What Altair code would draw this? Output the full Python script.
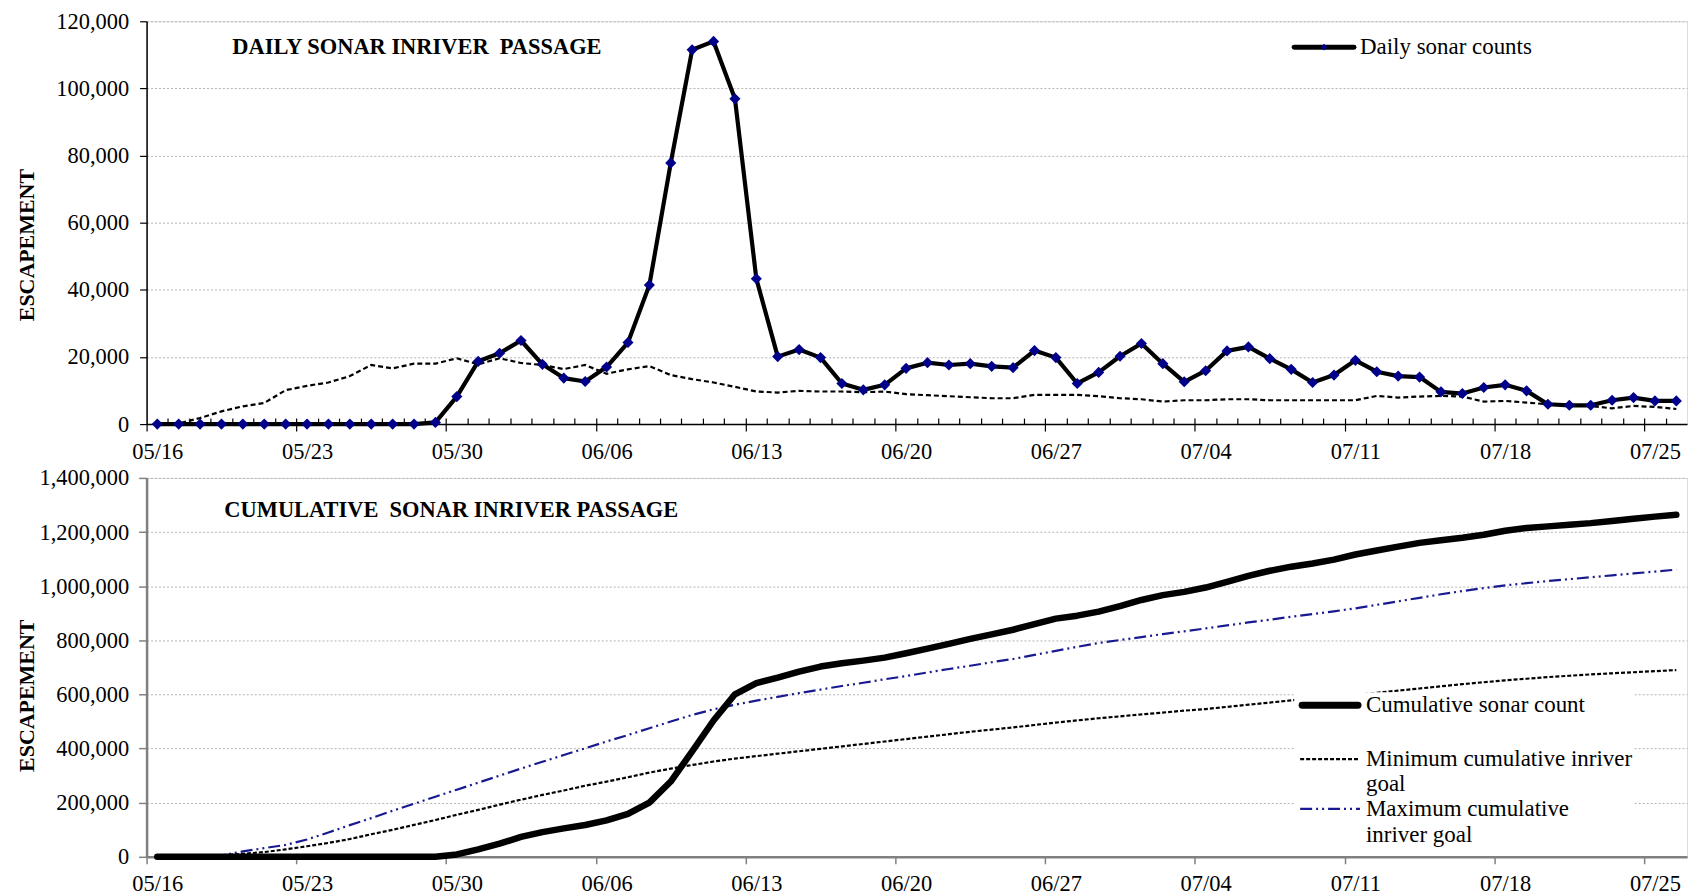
import json
import altair as alt
import pandas as pd

# ---------------- data ----------------
dates = [d.strftime("%m/%d") for d in pd.date_range("2000-05-16", periods=72, freq="D")]
tick_labels = ["05/16", "05/23", "05/30", "06/06", "06/13", "06/20",
               "06/27", "07/04", "07/11", "07/18", "07/25"]

daily_counts = [
    0, 0, 0, 0, 0, 0, 0,                                   # 05/16-05/22
    0, 0, 0, 0, 0, 0, 500,                                 # 05/23-05/29
    8200, 18700, 21100, 24900, 17800, 13700, 12700,        # 05/30-06/05
    17000, 24300, 41400, 77800, 111500, 114000, 96900,     # 06/06-06/12
    43300, 20100, 22200, 19800, 12100, 10200, 11700,       # 06/13-06/19
    16600, 18300, 17600, 18000, 17200, 16800, 21900,       # 06/20-06/26
    19800, 12100, 15400, 20200, 24000, 18000, 12600,       # 06/27-07/03
    15900, 21800, 23000, 19500, 16300, 12400, 14600,       # 07/04-07/10
    19000, 15600, 14300, 14000, 9600, 9100, 10900,         # 07/11-07/17
    11700, 9900, 5900, 5600, 5600, 7100, 7900,             # 07/18-07/24
    6900, 6900,                                            # 07/25-07/26
]

daily_min_goal = [
    0, 200, 1800, 3800, 5300, 6300, 10100,
    11400, 12400, 14300, 17600, 16600, 18000, 18000,
    19600, 17800, 19600, 18200, 17600, 16400, 17600,
    15000, 16300, 17300, 14600, 13400, 12400, 11100,
    9700, 9400, 9900, 9700, 9700, 9500, 9700,
    8900, 8600, 8300, 8000, 7700, 7700, 8700,
    8700, 8700, 8300, 7700, 7400, 6700, 7100,
    7100, 7400, 7400, 7100, 7100, 7100, 7100,
    7100, 8400, 7900, 8200, 8400, 8200, 6700,
    6900, 6400, 5900, 5600, 5400, 4700, 5400,
    5100, 4500,
]

cumulative_counts = [
    0, 0, 0, 0, 0, 0, 0,
    0, 0, 0, 0, 0, 0, 500,
    8700, 27400, 48500, 73400, 91200, 104900, 117600,
    134600, 158900, 200300, 278100, 389600, 503600, 600500,
    642000, 662000, 684000, 703000, 715000, 725000, 736000,
    752000, 769000, 787000, 805000, 822000, 839000, 860000,
    880000, 891000, 906000, 926000, 949000, 967000, 979000,
    995000, 1016000, 1038000, 1057000, 1072000, 1084000, 1098000,
    1117000, 1132000, 1146000, 1160000, 1170000, 1179000, 1190000,
    1205000, 1215000, 1221000, 1227000, 1233000, 1241000, 1249000,
    1257000, 1264000,
]

cum_min_goal = [
    0, 200, 2000, 5800, 11100, 17400, 27500,
    38900, 51300, 65600, 83200, 99800, 117800, 135800,
    155400, 173200, 192800, 211000, 228600, 245000, 262600,
    277600, 293900, 311200, 325800, 339200, 352000, 363000,
    372000, 381000, 390000, 399000, 408000, 417000, 426000,
    435000, 444000, 453000, 462000, 470000, 478000, 487000,
    496000, 504000, 512000, 519000, 526000, 533000, 540000,
    546000, 554000, 562000, 570000, 578000, 585000, 592000,
    599000, 606000, 614000, 622000, 630000, 638000, 645000,
    652000, 658000, 664000, 669000, 674000, 678000, 682000,
    686000, 690000,
]

cum_max_goal = [
    0, 0, 1000, 5000, 20000, 32000, 44000,
    64000, 90000, 117000, 143000, 170000, 196000, 222000,
    248000, 274000, 300000, 326000, 351000, 376000, 401000,
    426000, 450000, 475000, 500000, 524000, 545000, 562000,
    577000, 591000, 605000, 618000, 631000, 643000, 656000,
    668000, 681000, 694000, 706000, 719000, 731000, 746000,
    761000, 776000, 790000, 801000, 812000, 823000, 833000,
    844000, 855000, 866000, 876000, 887000, 897000, 907000,
    918000, 931000, 944000, 957000, 970000, 982000, 993000,
    1003000, 1011000, 1019000, 1026000, 1033000, 1040000, 1047000,
    1054000, 1061000,
]

NB = "\u00a0"
top_title = "DAILY SONAR INRIVER" + NB + " PASSAGE"
bottom_title = "CUMULATIVE" + NB + " SONAR INRIVER PASSAGE"
y_title = "ESCAPEMENT"
top_legend = "Daily sonar counts"
bottom_legend = ["Cumulative sonar count", "Minimum cumulative inriver", "goal",
                 "Maximum cumulative", "inriver goal"]

df = pd.DataFrame({
    "day": list(range(len(dates))),
    "date": dates,
    "daily": daily_counts,
    "daily_goal": daily_min_goal,
    "cum": cumulative_counts,
    "cum_min": cum_min_goal,
    "cum_max": cum_max_goal,
})

# ---------------- layout ----------------
FONT = "Liberation Serif"
W = 1545
H1 = 404
H2 = 380
DAY = W / 72.0
NAVY = "#00008b"
BLUE = "#1a1a90"
GRID = "#b4b4b4"
GRAY_AX = "#808080"

xscale = alt.Scale(domain=[-0.5, 71.5], nice=False, zero=False)
major_vals = [-0.5 + 7 * k for k in range(11)]
minor_vals = [k + 0.5 for k in range(71)]
label_expr = json.dumps(tick_labels) + "[round((datum.value + 0.5) / 7)]"

common_lbl = dict(labelFont=FONT, labelFontSize=22.5, labelColor="black")

ax_top_main = alt.Axis(orient="bottom", values=major_vals, labelExpr=label_expr,
                       labelOffset=DAY / 2, labelFlush=False, labelOverlap=False,
                       tickSize=7, tickColor="black", tickWidth=1.2,
                       domainColor="black", domainWidth=1.5, labelPadding=10,
                       grid=False, title=None, **common_lbl)
ax_top_minor = alt.Axis(orient="bottom", values=minor_vals, labels=False,
                        domain=False, grid=False, offset=-6, tickSize=6,
                        tickColor="black", tickWidth=1.2, title=None)
ax_bot = alt.Axis(orient="bottom", values=major_vals, labelExpr=label_expr,
                  labelOffset=DAY / 2, labelFlush=False, labelOverlap=False,
                  tickSize=7, tickColor=GRAY_AX, tickWidth=1.5,
                  domainColor=GRAY_AX, domainWidth=2.5, labelPadding=9,
                  grid=False, title=None, **common_lbl)

title_common = dict(title=y_title, titleFont=FONT, titleFontSize=22,
                    titleFontWeight="bold", titleColor="black", titleAngle=270,
                    titleAlign="center", titleBaseline="middle", titleX=-120)

ax_top_y = alt.Axis(values=list(range(0, 120001, 20000)), format=",.0f",
                    grid=True, gridColor=GRID, gridDash=[2, 2], gridWidth=1,
                    tickSize=7, tickColor="black", tickWidth=1.2,
                    domainColor="black", domainWidth=1.5, labelPadding=11,
                    titleY=224, **title_common, **common_lbl)
ax_bot_y = alt.Axis(values=list(range(0, 1400001, 200000)), format=",.0f",
                    grid=True, gridColor=GRID, gridDash=[2, 2], gridWidth=1,
                    tickSize=8, tickColor=GRAY_AX, tickWidth=1.5,
                    domainColor=GRAY_AX, domainWidth=2.5, labelPadding=10,
                    titleY=218, **title_common, **common_lbl)

ys_top = alt.Scale(domain=[0, 120000], nice=False, zero=True)
ys_bot = alt.Scale(domain=[0, 1400000], nice=False, zero=True)

base = alt.Chart(df)

# ---------------- top panel ----------------
goal_line = base.mark_line(color="black", strokeWidth=2.2, strokeDash=[5, 3]).encode(
    x=alt.X("day:Q", scale=xscale, axis=ax_top_main),
    y=alt.Y("daily_goal:Q", scale=ys_top, axis=ax_top_y),
)
daily_line = base.mark_line(color="black", strokeWidth=4.2, strokeJoin="round").encode(
    x=alt.X("day:Q", scale=xscale, axis=ax_top_minor),
    y=alt.Y("daily:Q", scale=ys_top, axis=ax_top_y),
)
daily_pts = base.mark_point(shape="diamond", filled=True, color=NAVY, size=125,
                            opacity=1).encode(
    x=alt.X("day:Q", scale=xscale, axis=None),
    y=alt.Y("daily:Q", scale=ys_top, axis=ax_top_y),
)

one = pd.DataFrame({"k": [0]})
txt = dict(font=FONT, fontSize=23, color="black", align="left", baseline="middle")
ttl = dict(font=FONT, fontSize=22.5, fontWeight="bold", color="black",
           align="left", baseline="middle")

t_top = alt.Chart(one).mark_text(text=top_title, **ttl).encode(
    x=alt.value(86), y=alt.value(26))
lg1_line = alt.Chart(one).mark_rule(color="black", strokeWidth=5, strokeCap="round").encode(
    x=alt.value(1151), x2=alt.value(1211), y=alt.value(26))
lg1_pt = alt.Chart(one).mark_point(shape="diamond", filled=True, color=NAVY,
                                   size=45, opacity=1).encode(
    x=alt.value(1181), y=alt.value(26))
lg1_txt = alt.Chart(one).mark_text(text=top_legend, **txt).encode(
    x=alt.value(1217), y=alt.value(26))

top = alt.layer(goal_line, daily_line, daily_pts, t_top, lg1_line, lg1_pt,
                lg1_txt).resolve_axis(x="independent").properties(width=W, height=H1)

# ---------------- bottom panel ----------------
xb = alt.X("day:Q", scale=xscale, axis=ax_bot)
min_line = base.mark_line(color="black", strokeWidth=2.2, strokeDash=[4, 2]).encode(
    x=xb, y=alt.Y("cum_min:Q", scale=ys_bot, axis=ax_bot_y))
max_line = base.mark_line(color=BLUE, strokeWidth=2.2,
                          strokeDash=[12, 4, 2, 4, 2, 4]).encode(
    x=xb, y=alt.Y("cum_max:Q", scale=ys_bot, axis=ax_bot_y))
cum_line = base.mark_line(color="black", strokeWidth=6.5, strokeJoin="round",
                          strokeCap="round").encode(
    x=xb, y=alt.Y("cum:Q", scale=ys_bot, axis=ax_bot_y))

t_bot = alt.Chart(one).mark_text(text=bottom_title, **ttl).encode(
    x=alt.value(78), y=alt.value(32))
lg_bg = alt.Chart(one).mark_rect(color="white").encode(
    x=alt.value(1151), x2=alt.value(1492), y=alt.value(215), y2=alt.value(367))
lg2_l1 = alt.Chart(one).mark_rule(color="black", strokeWidth=7, strokeCap="round").encode(
    x=alt.value(1159), x2=alt.value(1215), y=alt.value(228))
lg2_l2 = alt.Chart(one).mark_rule(color="black", strokeWidth=2.2, strokeDash=[4, 2]).encode(
    x=alt.value(1157), x2=alt.value(1217), y=alt.value(282))
lg2_l3 = alt.Chart(one).mark_rule(color=BLUE, strokeWidth=2.2,
                                  strokeDash=[12, 4, 2, 4, 2, 4]).encode(
    x=alt.value(1157), x2=alt.value(1217), y=alt.value(332))
lg2_texts = [
    alt.Chart(one).mark_text(text=s, **txt).encode(x=alt.value(1223), y=alt.value(yy))
    for s, yy in zip(bottom_legend, [228, 282, 307, 332, 358])
]

bottom = alt.layer(min_line, max_line, cum_line, lg_bg, lg2_l1, lg2_l2, lg2_l3,
                   *lg2_texts, t_bot).properties(width=W, height=H2)

chart = alt.vconcat(top, bottom, spacing=2).properties(
    padding={"left": 7, "top": 0, "right": 0, "bottom": 0}
).configure_view(stroke=GRID, strokeWidth=1).configure(font=FONT)

chart.save("out.html", embed_options={"renderer": "svg", "actions": False})
